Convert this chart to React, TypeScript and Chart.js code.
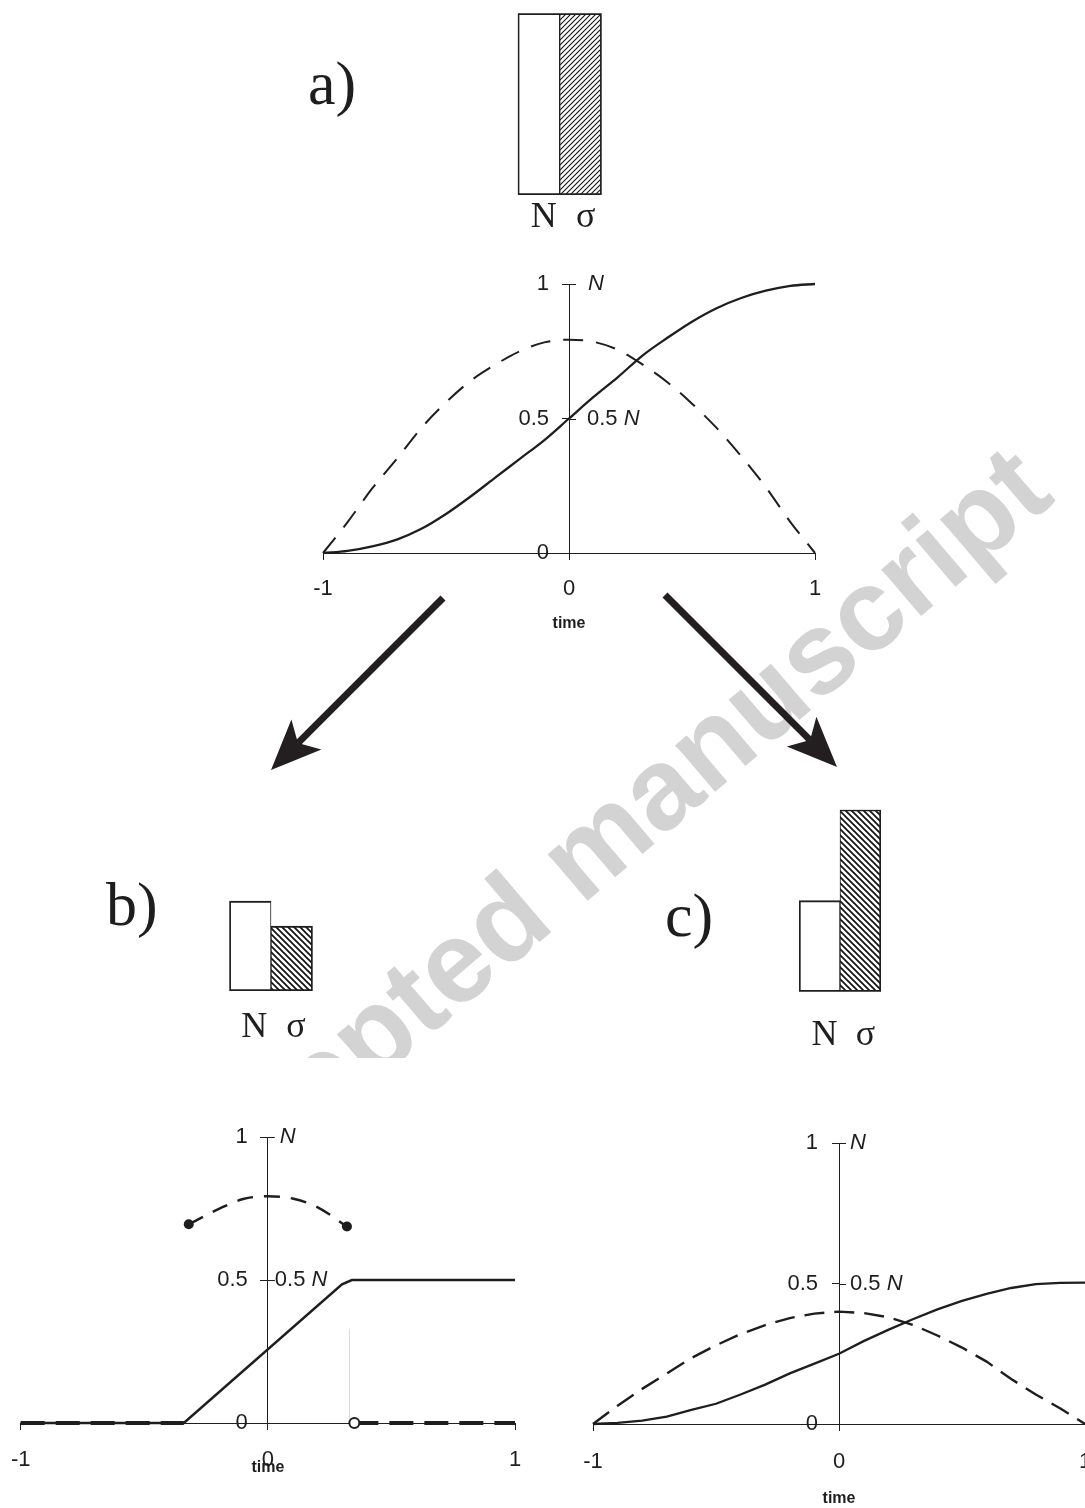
import React, { useEffect, useRef } from "react";
import { Chart, registerables } from "chart.js";

Chart.register(...registerables);

const SANS = "'Liberation Sans', Arial, Helvetica, sans-serif";
const SERIF = "'Liberation Serif', 'Times New Roman', Times, serif";
const INK = "#1e1e1e";
const TICK_SIZE = 22;

// ---------------- data ----------------
const barCategories = ["N", "σ"];
const barsA = [1.0, 1.0];
const barsB = [0.5, 0.36];
const barsC = [0.5, 1.0];

const xTickValues = [-1, 0, 1];
const yTickValues = [0, 0.5, 1];
const yTickLabels = ["0", "0.5", "1"];
const yRightValues = [0.5, 1];
const yRightPrefix = ["0.5 ", ""];
const yRightSymbol = ["N", "N"];
const xTitle = "time";

const timeGrid = [-1, -0.9, -0.8, -0.7, -0.6, -0.5, -0.4, -0.3, -0.2, -0.1, 0, 0.1, 0.2, 0.3, 0.4, 0.5, 0.6, 0.7, 0.8, 0.9, 1];

// panel a
const nA = [0, 0.008, 0.025, 0.05, 0.09, 0.145, 0.21, 0.28, 0.35, 0.42, 0.5, 0.58, 0.655, 0.735, 0.8, 0.86, 0.91, 0.948, 0.975, 0.993, 1];
const sigmaA = [0, 0.115, 0.24, 0.35, 0.465, 0.56, 0.64, 0.7, 0.75, 0.783, 0.793, 0.785, 0.755, 0.7, 0.635, 0.555, 0.465, 0.36, 0.245, 0.115, 0];

// panel b
const timeNB = [-1, -0.34, 0.3, 0.34, 1];
const nB = [0, 0, 0.485, 0.5, 0.5];
const timeSigmaArcB = [-0.32, -0.2, -0.1, 0, 0.1, 0.2, 0.32];
const sigmaArcB = [0.695, 0.748, 0.783, 0.793, 0.785, 0.755, 0.687];
const timeSigmaZeroLeftB = [-1, -0.34];
const sigmaZeroLeftB = [0, 0];
const timeSigmaZeroRightB = [0.35, 1];
const sigmaZeroRightB = [0, 0];
const timeGuideB = [0.33, 0.33];
const guideB = [0, 0.33];

// panel c
const nC = [0, 0.004, 0.012, 0.026, 0.05, 0.072, 0.105, 0.14, 0.18, 0.215, 0.25, 0.295, 0.335, 0.373, 0.408, 0.438, 0.463, 0.484, 0.498, 0.502, 0.503];
const sigmaC = [0, 0.065, 0.125, 0.18, 0.235, 0.28, 0.32, 0.352, 0.377, 0.393, 0.4, 0.395, 0.38, 0.353, 0.315, 0.272, 0.222, 0.16, 0.105, 0.055, 0];

const pts = (xs: number[], ys: number[]) => xs.map((x, i) => ({ x, y: ys[i] }));

// ---------------- geometry ----------------
type Geom = { areaL: number; areaT: number; areaW: number; areaH: number; axisH: number; padL: number; padT: number; padR: number; padB: number };

function boxOf(g: Geom) {
  const left = Math.floor(g.areaL - g.padL);
  const top = Math.floor(g.areaT - g.padT);
  const pl = g.areaL - left;
  const pt = g.areaT - top;
  const width = Math.ceil(pl + g.areaW + g.padR);
  const height = Math.ceil(pt + g.areaH + g.axisH + g.padB);
  const pr = width - pl - g.areaW;
  const pb = height - pt - g.areaH - g.axisH;
  return { left, top, width, height, padding: { left: pl, top: pt, right: pr, bottom: pb } };
}

const geomLineA: Geom = { areaL: 323, areaT: 284, areaW: 492, areaH: 269, axisH: 80, padL: 55, padT: 25, padR: 55, padB: 5 };
const geomLineB: Geom = { areaL: 20.7, areaT: 1137, areaW: 494.3, areaH: 286, axisH: 54, padL: 55, padT: 20, padR: 55, padB: 5 };
const geomLineC: Geom = { areaL: 593, areaT: 1143, areaW: 492, areaH: 281, axisH: 84, padL: 55, padT: 20, padR: 55, padB: 0 };

const geomBarA: Geom = { areaL: 517.7, areaT: 13.3, areaW: 84, areaH: 181.7, axisH: 50, padL: 50, padT: 5, padR: 50, padB: 5 };
const geomBarB: Geom = { areaL: 229.3, areaT: 811, areaW: 83.4, areaH: 180, axisH: 70, padL: 50, padT: 5, padR: 50, padB: 5 };
const geomBarC: Geom = { areaL: 799, areaT: 809.7, areaW: 82, areaH: 182, axisH: 75, padL: 50, padT: 5, padR: 50, padB: 5 };

// ---------------- plugins ----------------
const yAxisLabelsPlugin = {
  id: "yAxisLabels",
  afterDraw(chart: any, _args: any, opts: any) {
    const { ctx } = chart;
    const xs = chart.scales.x;
    const ys = chart.scales.y;
    const ax = xs.getPixelForValue(0);
    ctx.save();
    ctx.fillStyle = INK;
    ctx.textBaseline = "middle";
    ctx.textAlign = "right";
    ctx.font = `${TICK_SIZE}px ${SANS}`;
    yTickValues.forEach((v, i) => ctx.fillText(yTickLabels[i], ax - opts.leftGap, ys.getPixelForValue(v)));
    ctx.strokeStyle = INK;
    ctx.lineWidth = 1;
    yRightValues.forEach((v) => {
      const y = Math.round(ys.getPixelForValue(v)) + 0.5;
      ctx.beginPath();
      ctx.moveTo(ax, y);
      ctx.lineTo(ax + 7, y);
      ctx.stroke();
    });
    ctx.textAlign = "left";
    yRightValues.forEach((v, i) => {
      let x = ax + opts.rightGaps[i];
      const y = ys.getPixelForValue(v);
      if (yRightPrefix[i]) {
        ctx.font = `${TICK_SIZE}px ${SANS}`;
        ctx.fillText(yRightPrefix[i], x, y);
        x += ctx.measureText(yRightPrefix[i]).width;
      }
      ctx.font = `italic ${TICK_SIZE}px ${SANS}`;
      ctx.fillText(yRightSymbol[i], x, y);
    });
    ctx.restore();
  },
};

function lineConfig(g: Geom, datasets: any[], labelPad: number, leftGap: number, rightGaps: number[]) {
  const b = boxOf(g);
  return {
    type: "line",
    data: { datasets },
    plugins: [yAxisLabelsPlugin],
    options: {
      responsive: false,
      animation: false,
      devicePixelRatio: 1,
      events: [],
      layout: { padding: b.padding },
      plugins: {
        legend: { display: false },
        tooltip: { enabled: false },
        yAxisLabels: { leftGap, rightGaps },
      },
      scales: {
        x: {
          type: "linear",
          position: "bottom",
          min: -1,
          max: 1,
          afterBuildTicks: (s: any) => {
            s.ticks = xTickValues.map((v) => ({ value: v }));
          },
          ticks: {
            font: { family: SANS, size: TICK_SIZE },
            color: INK,
            padding: labelPad,
            maxRotation: 0,
            autoSkip: false,
            callback: (v: any) => String(v),
          },
          grid: { display: true, drawOnChartArea: false, drawTicks: true, tickLength: 7, color: INK, lineWidth: 1 },
          border: { display: true, color: INK, width: 1 },
          title: { display: true, text: xTitle, font: { family: SANS, size: 16, weight: "bold" }, color: INK, padding: 0 },
          afterFit: (s: any) => {
            s.height = g.axisH;
          },
        },
        y: {
          type: "linear",
          position: { x: 0 },
          min: 0,
          max: 1,
          afterBuildTicks: (s: any) => {
            s.ticks = yTickValues.map((v) => ({ value: v }));
          },
          ticks: { display: false },
          grid: { display: true, drawOnChartArea: false, drawTicks: true, tickLength: 7, color: INK, lineWidth: 1 },
          border: { display: true, color: INK, width: 1 },
        },
      },
    },
  };
}

function makeHatch(size: number, lw: number, dir: "/" | "\\") {
  const c = document.createElement("canvas");
  c.width = size;
  c.height = size;
  const x = c.getContext("2d") as CanvasRenderingContext2D;
  x.fillStyle = "#ffffff";
  x.fillRect(0, 0, size, size);
  x.strokeStyle = "#111";
  x.lineWidth = lw;
  for (let k = -1; k <= 1; k++) {
    x.beginPath();
    if (dir === "\\") {
      x.moveTo(k * size - 1, -1);
      x.lineTo(k * size + size + 1, size + 1);
    } else {
      x.moveTo(k * size - 1, size + 1);
      x.lineTo(k * size + size + 1, -1);
    }
    x.stroke();
  }
  return x.createPattern(c, "repeat") as CanvasPattern;
}

function barConfig(g: Geom, values: number[], hatch: CanvasPattern, labelPad: number, labelOffset: number) {
  const b = boxOf(g);
  return {
    type: "bar",
    data: {
      labels: barCategories,
      datasets: [
        {
          data: values,
          backgroundColor: ["#ffffff", hatch],
          borderColor: INK,
          borderWidth: [
            { top: 2, left: 2, bottom: 2, right: 1 },
            { top: 2, left: 1, bottom: 2, right: 2 },
          ],
          borderSkipped: false,
          barPercentage: 1,
          categoryPercentage: 1,
        },
      ],
    },
    options: {
      responsive: false,
      animation: false,
      devicePixelRatio: 1,
      events: [],
      layout: { padding: b.padding },
      plugins: { legend: { display: false }, tooltip: { enabled: false } },
      scales: {
        x: {
          grid: { display: false, drawTicks: false },
          border: { display: false },
          ticks: { font: { family: SERIF, size: 36 }, color: INK, padding: labelPad, labelOffset, maxRotation: 0 },
          afterFit: (s: any) => {
            s.height = g.axisH;
          },
        },
        y: { display: false, min: 0, max: 1 },
      },
    },
  };
}

// ---------------- components ----------------
function ChartCanvas({ geom, make }: { geom: Geom; make: () => any }) {
  const ref = useRef<HTMLCanvasElement | null>(null);
  const b = boxOf(geom);
  useEffect(() => {
    const chart = new Chart(ref.current as HTMLCanvasElement, make());
    return () => chart.destroy();
  }, []);
  return (
    <canvas
      ref={ref}
      width={b.width}
      height={b.height}
      style={{ position: "absolute", left: b.left, top: b.top, width: b.width, height: b.height, zIndex: 2 }}
    />
  );
}

const solid = (data: any[], w = 2.2) => ({ data, borderColor: INK, borderWidth: w, pointRadius: 0, fill: false, tension: 0, clip: false });
const dashed = (data: any[], dash: number[], w = 2) => ({ data, borderColor: INK, borderWidth: w, borderDash: dash, pointRadius: 0, fill: false, tension: 0, clip: false });

function lineA() {
  return lineConfig(
    geomLineA,
    [
      { ...solid(pts(timeGrid, nA), 2.3), cubicInterpolationMode: "monotone" },
      { ...dashed(pts(timeGrid, sigmaA), [20, 13], 2), cubicInterpolationMode: "monotone" },
    ],
    15.8,
    20,
    [18, 19]
  );
}

function lineB() {
  return lineConfig(
    geomLineB,
    [
      {
        ...dashed(pts(timeSigmaZeroRightB, sigmaZeroRightB), [24, 11], 3.8),
        pointRadius: [5, 0],
        pointBackgroundColor: "#ffffff",
        pointBorderColor: INK,
        pointBorderWidth: 2,
      },
      {
        ...dashed(pts(timeSigmaArcB, sigmaArcB), [16, 11], 2.5),
        cubicInterpolationMode: "monotone",
        pointRadius: [5, 0, 0, 0, 0, 0, 5],
        pointBackgroundColor: INK,
        pointBorderColor: INK,
        pointBorderWidth: 0,
      },
      solid(pts(timeNB, nB), 2.5),
      dashed(pts(timeSigmaZeroLeftB, sigmaZeroLeftB), [24, 11], 3.8),
      { ...solid(pts(timeGuideB, guideB), 1), borderColor: "#d9d9d9" },
    ],
    16.8,
    20,
    [7, 12]
  );
}

function lineC() {
  return lineConfig(
    geomLineC,
    [
      solid(pts(timeGrid, nC), 2.3),
      dashed(pts(timeGrid, sigmaC), [20, 10], 2.4),
    ],
    17.5,
    21,
    [11, 11]
  );
}

const barA = () => barConfig(geomBarA, barsA, makeHatch(5, 1.1, "/"), 1.4, 5);
const barB = () => barConfig(geomBarB, barsB, makeHatch(6, 1.7, "\\"), 15.4, 4);
const barC = () => barConfig(geomBarC, barsC, makeHatch(6, 1.7, "\\"), 22.7, 5);

function Arrow({ from, notch, tip, c1, c2 }: { from: number[]; notch: number[]; tip: number[]; c1: number[]; c2: number[] }) {
  return (
    <g>
      <line x1={from[0]} y1={from[1]} x2={notch[0]} y2={notch[1]} stroke="#231f20" strokeWidth={7} />
      <polygon points={`${tip[0]},${tip[1]} ${c1[0]},${c1[1]} ${notch[0]},${notch[1]} ${c2[0]},${c2[1]}`} fill="#231f20" />
    </g>
  );
}

export default function App() {
  return (
    <div style={{ position: "absolute", left: 0, top: 0, width: 1085, height: 1508, overflow: "hidden", background: "#ffffff" }}>
      <svg width={1085} height={1508} style={{ position: "absolute", left: 0, top: 0, zIndex: 0 }}>
        <text
          x={160}
          y={1266}
          transform="rotate(-40.5 160 1266)"
          fill="#d3d3d3"
          style={{ fontFamily: SANS, fontWeight: "bold", fontSize: 116 }}
        >
          Accepted manuscript
        </text>
      </svg>
      <div style={{ position: "absolute", left: 0, top: 1058, width: 545, height: 450, background: "#ffffff", zIndex: 1 }} />
      <ChartCanvas geom={geomBarA} make={barA} />
      <ChartCanvas geom={geomLineA} make={lineA} />
      <ChartCanvas geom={geomBarB} make={barB} />
      <ChartCanvas geom={geomBarC} make={barC} />
      <ChartCanvas geom={geomLineB} make={lineB} />
      <ChartCanvas geom={geomLineC} make={lineC} />
      <svg width={1085} height={1508} style={{ position: "absolute", left: 0, top: 0, zIndex: 3, pointerEvents: "none" }}>
        <text x={308} y={104} fill={INK} style={{ fontFamily: SERIF, fontSize: 62 }}>a)</text>
        <text x={106} y={925} fill={INK} style={{ fontFamily: SERIF, fontSize: 62 }}>b)</text>
        <text x={665} y={936} fill={INK} style={{ fontFamily: SERIF, fontSize: 62 }}>c)</text>
        <Arrow from={[443, 598]} notch={[297.9, 743.1]} tip={[271, 770]} c1={[321.4, 749.6]} c2={[291.4, 719.6]} />
        <Arrow from={[665, 595]} notch={[810.1, 740.1]} tip={[837, 767]} c1={[816.4, 716.8]} c2={[786.8, 746.4]} />
      </svg>
    </div>
  );
}
